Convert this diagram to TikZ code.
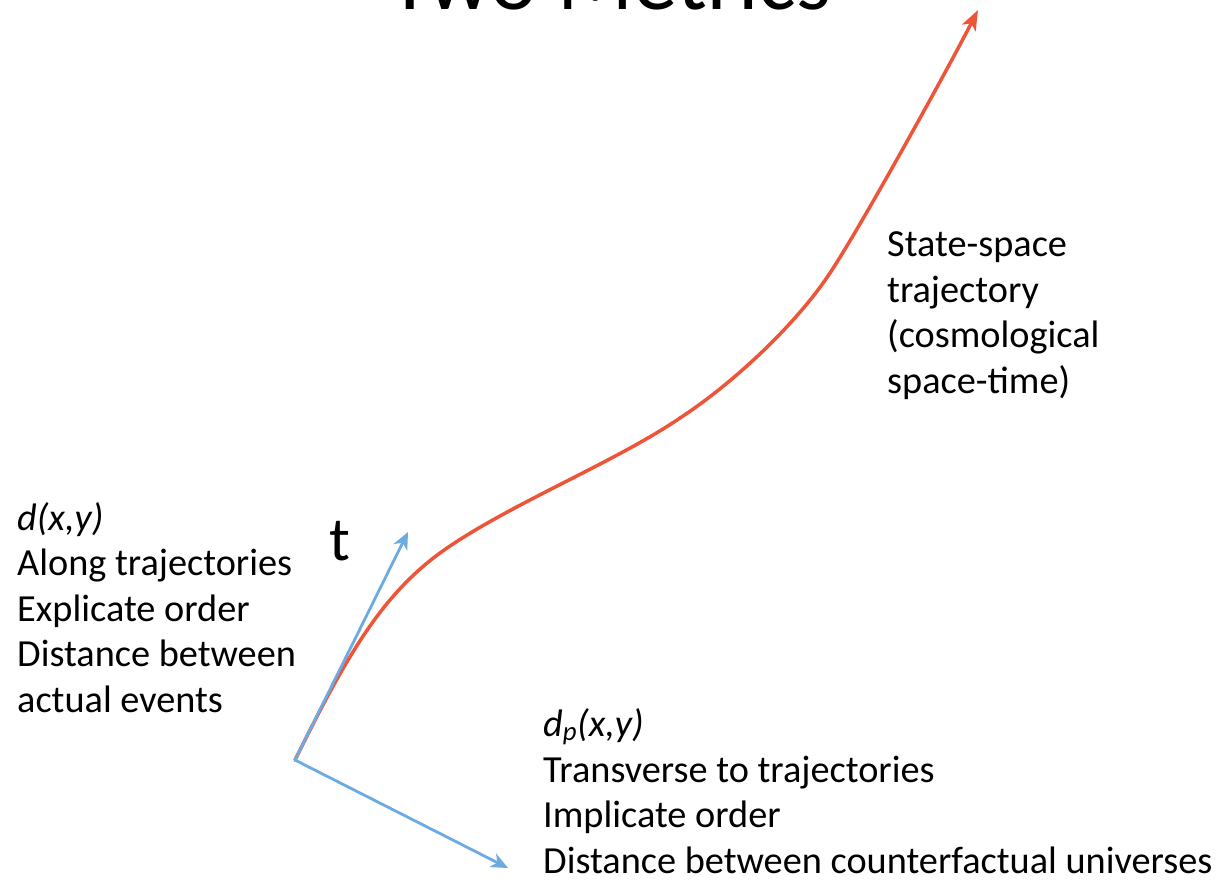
\documentclass[tikz,border=0pt]{standalone}
\usepackage{fontspec}
\setmainfont{Carlito}
\usetikzlibrary{arrows.meta}
\definecolor{trajred}{RGB}{238,84,56}
\definecolor{axisblue}{RGB}{108,170,224}
\begin{document}
\begin{tikzpicture}[x=1pt, y=-1pt, line cap=round, line join=round]
	\tikzset{body/.style={font=\fontsize{38.3}{45.5}\selectfont, align=left, anchor=base west, inner sep=0pt},
		traj/.style={trajred, line width=3.5pt, -{Stealth[length=20pt,width=15pt,inset=5pt]}},
		axis/.style={axisblue, line width=2.8pt, -{Stealth[length=17pt,width=15pt,inset=5pt]}}}
	\clip (0,0) rectangle (1220,881);
	\node[anchor=base west, inner sep=0pt, font=\fontsize{89}{100}\selectfont] (title) at (388,9) {Two Metrics};
	\coordinate (O) at (295,760);
	\coordinate (tup) at (408,532);
	\coordinate (tdown) at (508,868);
	\coordinate (tip) at (978,10);
	\draw[traj] (O) .. controls (345,659) and (380,597) .. (440,553)
		.. controls (505,506) and (614,463) .. (680,418)
		.. controls (735,382) and (797,323) .. (830,273)
		.. controls (863,223) and (951,63) .. (tip);
	\draw[axis] (O) -- (tup);
	\draw[axis] (O) -- (tdown);
	\node[anchor=base west, inner sep=0pt, font=\fontsize{62}{70}\selectfont] (t) at (329,560) {t};
	% base anchor of a multi-line node sits on its last line
	\node[body] (along) at (17,712) {\textit{d(x,y)}\\Along trajectories\\Explicate order\\Distance between\\actual events};
	\node[body] (transverse) at (543,873) {\textit{d}\textsubscript{\textit{p}}\textit{(x,y)}\\Transverse to trajectories\\Implicate order\\Distance between counterfactual universes};
	\node[body] (statespace) at (887,393) {State-space\\trajectory\\(cosmological\\space-time)};
\end{tikzpicture}
\end{document}
